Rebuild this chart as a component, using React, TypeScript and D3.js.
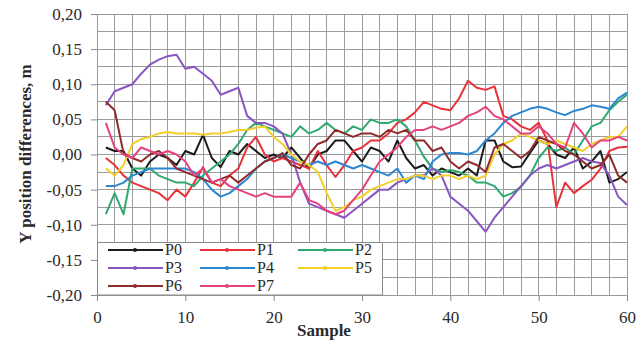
import React, { useEffect, useRef } from 'react';
import * as d3 from 'd3';

// sample index along x
const samples = d3.range(1, 61);

const p0 = [
  0.010, 0.005, 0.005, -0.020, -0.030, -0.010, 0.000, -0.005, -0.015, 0.005,
  0.000, 0.028, -0.005, -0.018, 0.005, 0.000, 0.015, 0.005, -0.005, 0.000,
  -0.005, 0.010, -0.005, -0.020, 0.000, 0.005, 0.020, 0.020, 0.005, -0.010,
  0.010, 0.005, -0.010, 0.020, -0.005, -0.020, -0.015, -0.030, -0.020, -0.025,
  -0.030, -0.020, -0.030, 0.020, 0.020, -0.010, -0.018, -0.017, 0.002, 0.020,
  0.015, 0.000, -0.005, 0.010, -0.020, -0.010, 0.005, -0.040, -0.035, -0.025,
];
const p1 = [
  -0.005, -0.015, -0.030, -0.040, -0.045, -0.050, -0.055, -0.065, -0.050, -0.060,
  -0.040, -0.018, -0.040, -0.045, -0.030, -0.020, 0.010, 0.025, 0.000, -0.010,
  -0.005, -0.010, -0.015, -0.020, 0.005, -0.015, -0.032, -0.015, 0.005, 0.010,
  0.020, 0.020, 0.030, 0.045, 0.050, 0.060, 0.075, 0.070, 0.065, 0.063,
  0.080, 0.105, 0.095, 0.092, 0.097, 0.055, 0.050, 0.040, 0.035, 0.045,
  0.020, -0.075, -0.040, -0.055, -0.045, -0.036, -0.020, 0.005, 0.010, 0.011,
];
const p2 = [
  -0.085, -0.055, -0.085, -0.020, -0.020, -0.020, -0.030, -0.035, -0.040, -0.040,
  -0.045, -0.030, -0.020, -0.010, 0.000, 0.015, 0.035, 0.045, 0.040, 0.035,
  0.030, 0.025, 0.040, 0.030, 0.035, 0.045, 0.035, 0.030, 0.040, 0.035,
  0.050, 0.045, 0.045, 0.050, 0.040, 0.020, -0.003, -0.020, -0.025, -0.022,
  -0.025, -0.030, -0.040, -0.040, -0.045, -0.060, -0.055, -0.046, -0.030, -0.005,
  0.010, 0.005, 0.010, 0.000, 0.020, 0.040, 0.045, 0.063, 0.075, 0.085,
];
const p3 = [
  0.070, 0.090, 0.095, 0.100, 0.115, 0.128, 0.135, 0.140, 0.142, 0.122,
  0.125, 0.115, 0.105, 0.085, 0.090, 0.095, 0.055, 0.045, 0.045, 0.040,
  0.030, 0.000, -0.040, -0.070, -0.075, -0.080, -0.085, -0.090, -0.080, -0.070,
  -0.060, -0.050, -0.050, -0.040, -0.035, -0.030, -0.030, -0.020, -0.030, -0.060,
  -0.070, -0.080, -0.095, -0.110, -0.090, -0.075, -0.060, -0.045, -0.030, -0.020,
  -0.015, -0.020, -0.015, -0.010, -0.005, -0.010, -0.012, -0.030, -0.060, -0.072,
];
const p4 = [
  -0.045, -0.045, -0.040, -0.030, -0.025, -0.020, -0.020, -0.020, -0.020, -0.020,
  -0.025, -0.035, -0.050, -0.060, -0.055, -0.045, -0.035, -0.020, -0.010, -0.005,
  0.000, -0.005, -0.010, -0.015, -0.010, -0.015, -0.010, -0.015, -0.020, -0.015,
  -0.020, -0.025, -0.030, -0.020, -0.040, -0.030, -0.035, -0.010, 0.000, 0.002,
  0.002, 0.000, 0.005, 0.020, 0.030, 0.045, 0.055, 0.060, 0.065, 0.068,
  0.065, 0.060, 0.056, 0.062, 0.065, 0.070, 0.068, 0.065, 0.080, 0.088,
];
const p5 = [
  -0.020, -0.030, -0.015, 0.015, 0.022, 0.025, 0.030, 0.032, 0.030, 0.030,
  0.030, 0.028, 0.030, 0.030, 0.032, 0.035, 0.035, 0.038, 0.040, 0.025,
  0.015, 0.000, -0.010, -0.015, -0.025, -0.055, -0.080, -0.075, -0.065, -0.060,
  -0.050, -0.045, -0.040, -0.035, -0.035, -0.030, -0.030, -0.035, -0.030, -0.030,
  -0.035, -0.030, -0.035, -0.030, 0.000, 0.015, 0.020, 0.030, 0.025, 0.020,
  0.015, 0.020, 0.015, 0.010, 0.005, 0.015, 0.020, 0.025, 0.025, 0.040,
];
const p6 = [
  0.075, 0.063, 0.002, -0.005, -0.010, 0.000, 0.005, -0.005, -0.020, -0.025,
  -0.030, -0.035, -0.040, -0.035, -0.030, -0.040, -0.030, -0.020, -0.010, -0.005,
  0.002, -0.015, -0.020, 0.000, 0.015, 0.020, 0.035, 0.030, 0.025, 0.030,
  0.030, 0.025, 0.035, 0.030, 0.035, 0.020, 0.020, 0.005, 0.010, -0.010,
  -0.020, -0.010, -0.015, -0.025, 0.010, 0.015, 0.005, -0.005, 0.005, 0.025,
  0.020, 0.015, 0.005, 0.000, -0.010, -0.020, -0.015, 0.000, -0.030, -0.040,
];
const p7 = [
  0.045, 0.010, 0.000, -0.005, 0.010, 0.005, 0.000, 0.005, 0.000, -0.010,
  -0.030, -0.020, -0.040, -0.035, -0.045, -0.050, -0.055, -0.060, -0.055, -0.060,
  -0.060, -0.060, -0.040, -0.065, -0.070, -0.080, -0.085, -0.080, -0.065, -0.050,
  -0.030, -0.010, 0.000, 0.010, 0.025, 0.035, 0.035, 0.040, 0.035, 0.040,
  0.045, 0.055, 0.060, 0.068, 0.055, 0.050, 0.040, 0.030, 0.030, 0.040,
  0.030, 0.015, 0.010, 0.045, 0.030, 0.010, 0.020, 0.020, 0.025, 0.020,
];

const seriesNames = ['P0', 'P1', 'P2', 'P3', 'P4', 'P5', 'P6', 'P7'];
const seriesValues = [p0, p1, p2, p3, p4, p5, p6, p7];
const seriesColors = ['#1c1c1c', '#e8333b', '#2fa970', '#8a55c2', '#2c87d2', '#f2cf2a', '#8e2c2c', '#e4417f'];

const xTicks = [0, 10, 20, 30, 40, 50, 60];
const yTicks = [0.2, 0.15, 0.1, 0.05, 0, -0.05, -0.1, -0.15, -0.2];

const serif = '"Liberation Serif", "Times New Roman", serif';

export default function App() {
  const svgRef = useRef<SVGSVGElement>(null);

  useEffect(() => {
    if (!svgRef.current) return;
    const svg = d3.select(svgRef.current);
    svg.selectAll('*').remove();

    const left = 97, right = 627, top = 14, bottom = 295;
    const x = d3.scaleLinear().domain([0, 60]).range([left, right]);
    const y = d3.scaleLinear().domain([-0.2, 0.2]).range([bottom, top]);

    svg.append('rect').attr('width', 638).attr('height', 342).attr('fill', '#fff');

    // Gridlines
    const grid = svg.append('g').attr('shape-rendering', 'crispEdges').attr('stroke', '#9c9c9c').attr('stroke-width', 1);
    grid.selectAll('line.v')
      .data(d3.range(0, 61, 2))
      .join('line')
      .attr('x1', d => x(d)).attr('x2', d => x(d))
      .attr('y1', top).attr('y2', bottom);
    grid.selectAll('line.h')
      .data(d3.range(-8, 9).map(i => i * 0.025))
      .join('line')
      .attr('x1', left).attr('x2', right)
      .attr('y1', d => y(d)).attr('y2', d => y(d));

    // Axes
    const fmt = (d: number) => d3.format('.2f')(d).replace('.', ',').replace('−', '-');
    const yAxis = svg.append('g')
      .attr('transform', `translate(${left},0)`)
      .call(d3.axisLeft(y).tickValues(yTicks).tickSize(6).tickSizeOuter(0).tickPadding(9).tickFormat(d => fmt(d as number)));
    yAxis.select('.domain').attr('stroke', '#888');
    yAxis.selectAll('line').attr('stroke', '#888');
    yAxis.selectAll('text').attr('font-family', serif).attr('font-size', 17).attr('fill', '#2a2a2a');

    const xAxis = svg.append('g')
      .attr('transform', `translate(0,${bottom})`)
      .call(d3.axisBottom(x).tickValues(xTicks).tickSize(6).tickSizeOuter(0).tickPadding(10).tickFormat(d => String(d)));
    xAxis.select('.domain').attr('stroke', '#888');
    xAxis.selectAll('line').attr('stroke', '#888');
    xAxis.selectAll('text').attr('font-family', serif).attr('font-size', 17).attr('fill', '#2a2a2a');

    svg.append('rect')
      .attr('x', left).attr('y', top)
      .attr('width', right - left).attr('height', bottom - top)
      .attr('fill', 'none').attr('stroke', '#999').attr('shape-rendering', 'crispEdges');

    // Series
    const line = d3.line<number>()
      .x((_, i) => x(samples[i]))
      .y(d => y(d));

    seriesValues.forEach((vals, k) => {
      svg.append('path')
        .datum(vals)
        .attr('fill', 'none')
        .attr('stroke', seriesColors[k])
        .attr('stroke-width', 2)
        .attr('stroke-linejoin', 'round')
        .attr('d', line);
    });

    // Legend
    const legend = svg.append('g');
    legend.append('rect')
      .attr('x', left + 0.5).attr('y', 242.5)
      .attr('width', 285).attr('height', bottom - 242.5)
      .attr('fill', '#fff').attr('stroke', '#888');
    const colX = [108, 200, 298];
    const rowY = [250, 268, 286];
    seriesNames.forEach((name, k) => {
      const cx = colX[k % 3];
      const cy = rowY[Math.floor(k / 3)];
      legend.append('line')
        .attr('x1', cx).attr('x2', cx + 55)
        .attr('y1', cy).attr('y2', cy)
        .attr('stroke', seriesColors[k]).attr('stroke-width', 2);
      legend.append('circle')
        .attr('cx', cx + 27).attr('cy', cy).attr('r', 2)
        .attr('fill', seriesColors[k]);
      legend.append('text')
        .attr('x', cx + 57).attr('y', cy + 5)
        .attr('font-family', serif).attr('font-size', 16).attr('fill', '#2a2a2a')
        .text(name);
    });

    // Titles
    svg.append('text')
      .attr('x', 324).attr('y', 336)
      .attr('text-anchor', 'middle')
      .attr('font-family', serif).attr('font-weight', 'bold').attr('font-size', 17).attr('fill', '#2a2a2a')
      .text('Sample');

    svg.append('text')
      .attr('transform', `translate(31,154) rotate(-90)`)
      .attr('text-anchor', 'middle')
      .attr('font-family', serif).attr('font-weight', 'bold').attr('font-size', 17).attr('fill', '#2a2a2a')
      .text('Y position differences, m');
  }, []);

  return (
    <svg
      ref={svgRef}
      width={638}
      height={342}
      style={{ position: 'absolute', left: 0, top: 0, display: 'block' }}
    />
  );
}
